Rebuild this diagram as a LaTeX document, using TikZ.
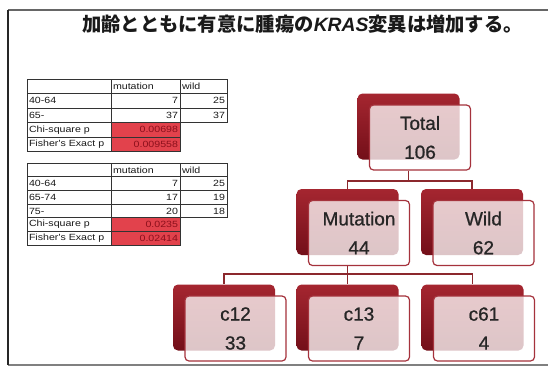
\documentclass[tikz,border=0pt]{standalone}
\usepackage{fontspec}
\setmainfont{Liberation Sans}
\newfontfamily\cjk{Noto Sans CJK JP}
\newfontfamily\tabfont[FakeStretch=1.18]{Liberation Sans}
\newfontfamily\boxfont[FakeBold=0.9]{Liberation Sans}
\usetikzlibrary{backgrounds}
\definecolor{boxtop}{RGB}{165,38,48}
\definecolor{boxbot}{RGB}{115,15,25}
\definecolor{boxline}{RGB}{165,50,60}
\definecolor{connc}{RGB}{140,40,45}
\definecolor{redcell}{RGB}{226,66,76}
\definecolor{redtext}{RGB}{140,16,28}
\tikzset{
  backbox/.style={shade, top color=boxtop, bottom color=boxbot, rounded corners=5pt,
    minimum width=102pt, minimum height=66pt, inner sep=0pt},
  frontbox/.style={draw=boxline, line width=1.2pt, fill=white, fill opacity=0.76, text opacity=1,
    rounded corners=4pt, minimum width=101pt, minimum height=65pt, inner sep=0pt,
    xshift=11.5pt, yshift=-11pt, align=center, text=black!85,
    font=\boxfont\fontsize{19}{29}\selectfont},
  conn/.style={draw=connc, line width=1.3pt},
  cell/.style={draw=black!80, line width=0.7pt, anchor=north west, inner xsep=2pt, inner ysep=0pt,
    outer sep=0pt, font=\tabfont\fontsize{9}{10}\selectfont, text=black!90},
  lab/.style={cell, text width=80pt, align=left},
  mcol/.style={cell, text width=65pt},
  wcol/.style={cell, text width=43pt},
  red/.style={fill=redcell, text=redtext},
}
\begin{document}
\begin{tikzpicture}[x=1pt,y=-1pt]
\useasboundingbox (0,0) rectangle (548,367);
% frame
\draw[black!60, line width=1.3pt] (8,10) -- (548,10);
\draw[black!50, line width=1.2pt] (8,365) -- (548,365);
\draw[black!85, line width=1.4pt] (8,10) -- (8,365);
% title
\node[font=\cjk\bfseries\fontsize{19.3}{22}\selectfont, text=black!90] (title) at (302.5,24)
  {加齢とともに有意に腫瘍の{\rmfamily\bfseries\itshape KRAS}変異は増加する。};
% table 1
\begin{scope}[every node/.append style={minimum height=14.5pt}]
\node[lab] (a11) at (27,79) {};
\node[mcol, align=left] (a12) at (111,79) {mutation};
\node[wcol, align=left] (a13) at (180,79) {wild};
\node[lab] (a21) at (27,93.5) {40-64};
\node[mcol, align=right] (a22) at (111,93.5) {7};
\node[wcol, align=right] (a23) at (180,93.5) {25};
\node[lab] (a31) at (27,108) {65-};
\node[mcol, align=right] (a32) at (111,108) {37};
\node[wcol, align=right] (a33) at (180,108) {37};
\node[lab] (a41) at (27,122.5) {Chi-square p};
\node[mcol, align=right, red] (a42) at (111,122.5) {0.00698};
\node[lab] (a51) at (27,137) {Fisher's Exact p};
\node[mcol, align=right, red] (a52) at (111,137) {0.009558};
\end{scope}
% table 2
\begin{scope}[every node/.append style={minimum height=13.7pt}]
\node[lab] (b11) at (27,163) {};
\node[mcol, align=left] (b12) at (111,163) {mutation};
\node[wcol, align=left] (b13) at (180,163) {wild};
\node[lab] (b21) at (27,176.7) {40-64};
\node[mcol, align=right] (b22) at (111,176.7) {7};
\node[wcol, align=right] (b23) at (180,176.7) {25};
\node[lab] (b31) at (27,190.4) {65-74};
\node[mcol, align=right] (b32) at (111,190.4) {17};
\node[wcol, align=right] (b33) at (180,190.4) {19};
\node[lab] (b41) at (27,204.1) {75-};
\node[mcol, align=right] (b42) at (111,204.1) {20};
\node[wcol, align=right] (b43) at (180,204.1) {18};
\node[lab] (b51) at (27,217.8) {Chi-square p};
\node[mcol, align=right, red] (b52) at (111,217.8) {0.0235};
\node[lab] (b61) at (27,231.5) {Fisher's Exact p};
\node[mcol, align=right, red] (b62) at (111,231.5) {0.02414};
\end{scope}
% tree
\node[backbox] (tot) at (408.5,126.5) {};
\node[frontbox] (totf) at (tot) {Total\\106};
\node[backbox] (mut) at (347.5,222) {};
\node[frontbox] (mutf) at (mut) {Mutation\\44};
\node[backbox] (wild) at (472,222) {};
\node[frontbox] (wildf) at (wild) {Wild\\62};
\node[backbox] (c12) at (224,317.5) {};
\node[frontbox] (c12f) at (c12) {c12\\33};
\node[backbox] (c13) at (347.5,317.5) {};
\node[frontbox] (c13f) at (c13) {c13\\7};
\node[backbox] (c61) at (472.5,317.5) {};
\node[frontbox] (c61f) at (c61) {c61\\4};
\coordinate (bus1) at (408.5,181);
\coordinate (bus2) at (347.5,274);
\begin{scope}[on background layer]
\draw[conn] (tot |- totf.south) -- (bus1);
\draw[conn] (mut.north) |- (bus1) -| (wild.north);
\draw[conn] (mut |- mutf.south) -- (bus2);
\draw[conn] (c12.north) |- (bus2) -| (c61.north);
\draw[conn] (bus2) -- (c13.north);
\end{scope}
\end{tikzpicture}
\end{document}
